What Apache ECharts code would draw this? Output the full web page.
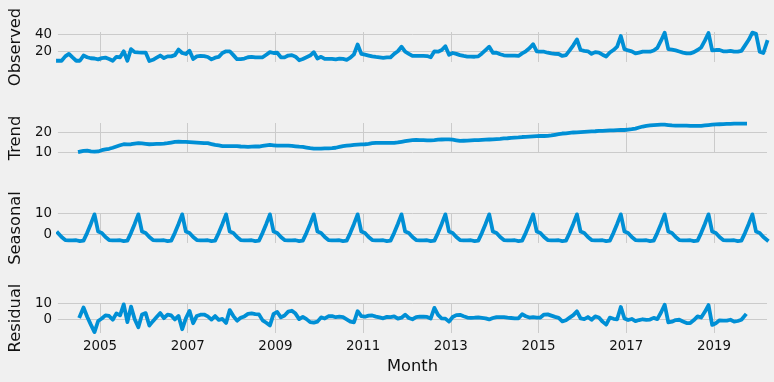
<!DOCTYPE html>
<html>
<head>
<meta charset="utf-8">
<script src="https://cdn.jsdelivr.net/npm/echarts@6/dist/echarts.min.js"></script>
<style>
html,body{margin:0;padding:0;background:#f0f0f0;}
#chart{width:774px;height:382px;}
</style>
</head>
<body>
<div id="chart"></div>
<script>
// Monthly series, Jan 2004 .. Mar 2020
const startYear = 2004;
const observed = [
  9.4, 9.4, 14.5, 17.5, 13.3, 9.4, 9.4, 15.5, 13.5, 12.3, 12.0, 11.0,
  12.5, 13.0, 11.5, 9.4, 14.0, 13.5, 20.5, 9.4, 23.0, 19.5, 19.2, 19.0,
  19.0, 9.0, 10.5, 13.0, 15.5, 12.5, 14.5, 14.5, 16.0, 22.5, 18.5, 17.3,
  21.2, 11.4, 14.5, 15.0, 14.9, 13.8, 11.0, 13.0, 14.0, 18.5, 20.5, 20.5,
  16.0, 11.2, 11.4, 12.0, 13.5, 14.0, 13.3, 13.3, 13.5, 16.5, 19.5, 18.5,
  18.8, 13.5, 13.3, 15.5, 16.0, 14.1, 10.0, 11.5, 13.5, 15.5, 19.5, 12.0,
  14.0, 11.5, 11.5, 11.5, 11.0, 11.8, 11.5, 10.5, 13.0, 17.0, 28.6, 17.5,
  16.5, 15.5, 14.5, 13.8, 13.3, 12.8, 13.3, 13.3, 17.5, 20.5, 25.9, 20.0,
  17.5, 15.0, 15.0, 15.0, 15.0, 14.9, 13.5, 20.5, 20.0, 22.0, 26.5, 16.5,
  18.5, 17.5, 16.0, 15.0, 14.3, 14.3, 14.1, 14.5, 18.0, 22.0, 25.9, 18.8,
  18.8, 17.0, 15.8, 15.3, 15.3, 15.3, 15.0, 18.0, 20.5, 24.0, 28.8, 20.5,
  20.0, 20.0, 18.8, 18.0, 17.5, 17.3, 15.0, 16.0, 21.5, 27.5, 34.5, 22.0,
  21.0, 20.5, 17.5, 19.5, 19.0, 16.5, 14.3, 19.0, 22.0, 26.0, 38.4, 23.0,
  21.5, 20.5, 18.0, 19.0, 20.0, 20.0, 20.0, 21.5, 24.5, 33.0, 42.4, 23.0,
  22.5, 21.5, 20.3, 19.0, 18.0, 18.0, 19.5, 22.0, 25.0, 33.0, 42.0, 21.5,
  22.0, 22.0, 20.5, 20.5, 21.0, 20.0, 20.0, 21.0, 27.5, 34.0, 42.4, 41.0,
  20.0, 18.5, 31.5
];
const trend = [
  null, null, null, null, null, null, 10.5, 10.9, 11.0, 10.6, 10.5, 10.6,
  11.2, 11.6, 11.9, 12.4, 13.0, 13.6, 14.1, 14.0, 14.1, 14.4, 14.6, 14.5,
  14.3, 14.1, 14.2, 14.3, 14.3, 14.4, 14.6, 14.9, 15.2, 15.3, 15.2, 15.2,
  15.1, 15.0, 14.9, 14.8, 14.6, 14.6, 14.2, 13.8, 13.5, 13.2, 13.2, 13.2,
  13.2, 13.2, 13.0, 12.9, 12.8, 12.9, 13.0, 13.0, 13.3, 13.6, 13.8, 13.6,
  13.4, 13.4, 13.4, 13.4, 13.3, 13.1, 12.9, 12.8, 12.5, 12.2, 12.0, 12.0,
  12.0, 12.1, 12.1, 12.2, 12.4, 12.8, 13.2, 13.4, 13.6, 13.8, 13.9, 14.0,
  14.1, 14.3, 14.6, 14.8, 14.8, 14.8, 14.8, 14.8, 14.8, 15.0, 15.3, 15.6,
  15.9, 16.1, 16.2, 16.1, 16.1, 16.0, 16.0, 16.1, 16.3, 16.4, 16.5, 16.5,
  16.3, 16.0, 15.7, 15.8, 15.9, 16.0, 16.1, 16.1, 16.2, 16.3, 16.4, 16.5,
  16.6, 16.7, 16.9, 17.0, 17.2, 17.3, 17.4, 17.6, 17.7, 17.8, 17.9, 18.0,
  18.1, 18.1, 18.2, 18.4, 18.7, 19.0, 19.3, 19.4, 19.6, 19.8, 19.9, 20.0,
  20.1, 20.2, 20.3, 20.4, 20.6, 20.6, 20.7, 20.8, 20.8, 20.9, 21.0, 21.0,
  21.2, 21.4, 21.7, 22.2, 22.7, 23.0, 23.2, 23.4, 23.5, 23.6, 23.6, 23.4,
  23.2, 23.1, 23.1, 23.1, 23.1, 23.0, 23.0, 23.0, 23.0, 23.2, 23.4, 23.6,
  23.7, 23.8, 23.9, 24.0, 24.0, 24.1, 24.1, 24.1, 24.1, null, null, null,
  null, null, null
];
const seasonal = [
  0.8, -1.1, -2.5, -2.7, -2.7, -2.6, -3.0, -2.8, 0.9, 5.1, 9.6, 1.5,
  0.8, -1.1, -2.5, -2.7, -2.7, -2.6, -3.0, -2.8, 0.9, 5.1, 9.6, 1.5,
  0.8, -1.1, -2.5, -2.7, -2.7, -2.6, -3.0, -2.8, 0.9, 5.1, 9.6, 1.5,
  0.8, -1.1, -2.5, -2.7, -2.7, -2.6, -3.0, -2.8, 0.9, 5.1, 9.6, 1.5,
  0.8, -1.1, -2.5, -2.7, -2.7, -2.6, -3.0, -2.8, 0.9, 5.1, 9.6, 1.5,
  0.8, -1.1, -2.5, -2.7, -2.7, -2.6, -3.0, -2.8, 0.9, 5.1, 9.6, 1.5,
  0.8, -1.1, -2.5, -2.7, -2.7, -2.6, -3.0, -2.8, 0.9, 5.1, 9.6, 1.5,
  0.8, -1.1, -2.5, -2.7, -2.7, -2.6, -3.0, -2.8, 0.9, 5.1, 9.6, 1.5,
  0.8, -1.1, -2.5, -2.7, -2.7, -2.6, -3.0, -2.8, 0.9, 5.1, 9.6, 1.5,
  0.8, -1.1, -2.5, -2.7, -2.7, -2.6, -3.0, -2.8, 0.9, 5.1, 9.6, 1.5,
  0.8, -1.1, -2.5, -2.7, -2.7, -2.6, -3.0, -2.8, 0.9, 5.1, 9.6, 1.5,
  0.8, -1.1, -2.5, -2.7, -2.7, -2.6, -3.0, -2.8, 0.9, 5.1, 9.6, 1.5,
  0.8, -1.1, -2.5, -2.7, -2.7, -2.6, -3.0, -2.8, 0.9, 5.1, 9.6, 1.5,
  0.8, -1.1, -2.5, -2.7, -2.7, -2.6, -3.0, -2.8, 0.9, 5.1, 9.6, 1.5,
  0.8, -1.1, -2.5, -2.7, -2.7, -2.6, -3.0, -2.8, 0.9, 5.1, 9.6, 1.5,
  0.8, -1.1, -2.5, -2.7, -2.7, -2.6, -3.0, -2.8, 0.9, 5.1, 9.6, 1.5,
  0.8, -1.1, -2.5
];
const residual = [
  null, null, null, null, null, null, 1.9, 7.4, 1.6, -3.4, -8.1, -1.1,
  0.5, 2.5, 2.1, -0.3, 3.7, 2.5, 9.4, -1.8, 8.0, 0.0, -5.0, 3.0,
  3.9, -4.0, -1.2, 1.4, 3.9, 0.7, 2.9, 2.4, -0.1, 2.1, -6.3, 0.6,
  5.3, -2.5, 2.1, 2.9, 3.0, 1.8, -0.2, 2.0, -0.4, 0.2, -2.3, 5.8,
  2.0, -0.9, 0.9, 1.8, 3.4, 3.7, 3.3, 3.1, -0.7, -2.2, -3.9, 3.4,
  4.6, 1.2, 2.4, 4.8, 5.4, 3.6, 0.1, 1.5, 0.1, -1.8, -2.1, -1.5,
  1.2, 0.5, 1.9, 2.0, 1.3, 1.6, 1.3, -0.1, -1.5, -1.9, 5.1, 2.0,
  1.6, 2.3, 2.4, 1.7, 1.2, 0.6, 1.5, 1.3, 1.8, 0.4, 1.0, 2.9,
  0.8, 0.0, 1.3, 1.6, 1.6, 1.5, 0.5, 7.2, 2.8, 0.5, 0.4, -1.5,
  1.4, 2.6, 2.8, 1.9, 1.1, 0.9, 1.0, 1.2, 0.9, 0.6, -0.1, 0.8,
  1.4, 1.4, 1.4, 1.0, 0.8, 0.6, 0.6, 3.2, 1.9, 1.1, 1.3, 1.0,
  1.1, 3.0, 3.1, 2.3, 1.5, 0.9, -1.3, -0.6, 1.0, 2.6, 5.0, 0.5,
  0.1, 1.4, -0.3, 1.8, 1.1, -1.5, -3.4, 1.0, 0.3, 0.0, 7.8, 0.5,
  -0.5, 0.2, -1.2, -0.5, 0.0, -0.4, -0.2, 0.9, 0.1, 4.3, 9.2, -1.9,
  -1.5, -0.5, -0.3, -1.4, -2.4, -2.4, -0.5, 1.8, 1.1, 4.7, 9.0, -3.6,
  -2.5, -0.7, -0.9, -0.8, -0.3, -1.5, -1.1, -0.3, 2.5, null, null, null,
  null, null, null
];
const xTickYears = [2005, 2007, 2009, 2011, 2013, 2015, 2017, 2019];
const panelNames = ['Observed', 'Trend', 'Seasonal', 'Residual'];
const yTicks = [[20, 40], [10, 20], [0, 10], [0, 10]];
const yRanges = [[7.9, 43.2], [9.85, 24.4], [-3.9, 10.25], [-8.7, 10.3]];
const xLabel = 'Month';

// month positions (mid-month, decimal years)
const months = observed.map((_, i) => ({ y: startYear + Math.floor(i / 12), m: i % 12 + 1 }));
const xs = months.map(d => d.y + (d.m - 0.5) / 12);
const xMin = xs[0], xMax = xs[xs.length - 1];

const seriesData = [observed, trend, seasonal, residual];
const tops = [32, 123, 213, 303];
const FONT = 'DejaVu Sans';
const BLUE = '#008fd5';
const GRID = '#cbcbcb';

const grids = tops.map(t => ({ left: 52, right: 7, top: t, height: 30 }));
const xAxes = tops.map((t, k) => ({
  gridIndex: k, type: 'value', min: xMin, max: xMax,
  axisLine: { show: false },
  axisTick: { show: false, customValues: xTickYears },
  axisLabel: { show: k === 3, customValues: xTickYears, formatter: v => String(v),
    fontFamily: FONT, fontSize: 13.4, color: '#111', margin: 7 },
  splitLine: { show: true, lineStyle: { color: GRID, width: 1 } },
  name: k === 3 ? xLabel : '', nameLocation: 'middle', nameGap: 26,
  nameTextStyle: { fontFamily: FONT, fontSize: 16.3, color: '#111' }
}));
const yAxes = tops.map((t, k) => ({
  gridIndex: k, type: 'value', min: yRanges[k][0], max: yRanges[k][1],
  axisLine: { show: false },
  axisTick: { show: false, customValues: yTicks[k] },
  axisLabel: { customValues: yTicks[k], fontFamily: FONT, fontSize: 13.4, color: '#111', margin: 6 },
  splitLine: { show: true, lineStyle: { color: GRID, width: 1 } },
  name: panelNames[k], nameLocation: 'middle', nameGap: 29,
  nameTextStyle: { fontFamily: FONT, fontSize: 16.3, color: '#111' }
}));
const series = seriesData.map((arr, k) => ({
  type: 'line', xAxisIndex: k, yAxisIndex: k,
  data: arr.map((v, i) => [xs[i], v]),
  showSymbol: false, symbol: 'none', clip: false, connectNulls: false,
  lineStyle: { color: BLUE, width: 3.8, cap: 'square', join: 'round' },
  animation: false
}));

const chart = echarts.init(document.getElementById('chart'), null, { renderer: 'canvas' });
chart.setOption({
  backgroundColor: '#f0f0f0',
  animation: false,
  grid: grids, xAxis: xAxes, yAxis: yAxes, series: series
});
</script>
</body>
</html>
